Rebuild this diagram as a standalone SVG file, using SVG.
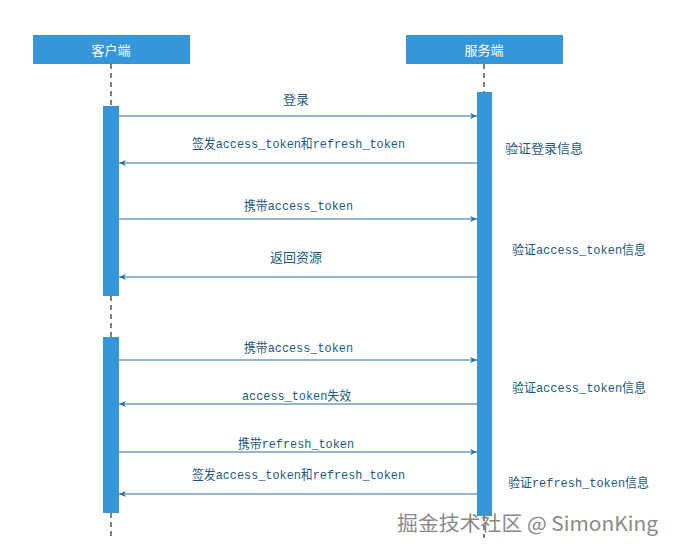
<svg xmlns="http://www.w3.org/2000/svg" width="675" height="553" viewBox="0 0 675 553">
<style>
.hdr{fill:#3596d9}
.hdrt{fill:#ffffff;font-family:"Noto Sans CJK SC",sans-serif;font-size:13px;text-anchor:middle;dominant-baseline:central}
.bar{fill:#3596d9}
.life{stroke:#000;stroke-width:1;stroke-dasharray:5,4;fill:none}
.msg{stroke:#2f6f9f;stroke-width:1.2;fill:none}
.lbl{fill:#1e5a80;font-family:"Liberation Mono","Noto Sans CJK SC",monospace;font-size:13px;dominant-baseline:central}
.mid{text-anchor:middle}
.wm{fill:#8a8a8a;font-family:"Noto Sans CJK SC","Noto Sans",sans-serif;font-size:20px}
</style>
<defs>
<marker id="ah" markerWidth="8" markerHeight="8" refX="7" refY="4" orient="auto" markerUnits="userSpaceOnUse">
<path d="M0,1 L7,4 L0,7 L2,4 Z" fill="#2f6f9f"/>
</marker>
</defs>
<rect width="675" height="553" fill="#ffffff"/>
<g id="lifelines">
<line class="life" x1="111" y1="64" x2="111" y2="106"/>
<line class="life" x1="111" y1="296" x2="111" y2="337"/>
<line class="life" x1="111" y1="513" x2="111" y2="538"/>
<line class="life" x1="484" y1="64" x2="484" y2="92"/>
<line class="life" x1="484" y1="516" x2="484" y2="538"/>
</g>
<g id="client">
<rect class="hdr" x="33" y="35" width="157" height="29"/>
<text class="hdrt" x="111" y="49.5">客户端</text>
</g>
<g id="server">
<rect class="hdr" x="406" y="35" width="157" height="29"/>
<text class="hdrt" x="484" y="49.5">服务端</text>
</g>
<g id="client-activation-1"><rect class="bar" x="103" y="106" width="16" height="190"/></g>
<g id="client-activation-2"><rect class="bar" x="103" y="337" width="16" height="176"/></g>
<g id="server-activation"><rect class="bar" x="477" y="92" width="15" height="424"/></g>
<g id="connectors">
<line class="msg" x1="119" y1="116" x2="477" y2="116" marker-end="url(#ah)"/>
<line class="msg" x1="477" y1="163" x2="119" y2="163" marker-end="url(#ah)"/>
<line class="msg" x1="119" y1="219" x2="477" y2="219" marker-end="url(#ah)"/>
<line class="msg" x1="477" y1="277" x2="119" y2="277" marker-end="url(#ah)"/>
<line class="msg" x1="119" y1="360" x2="477" y2="360" marker-end="url(#ah)"/>
<line class="msg" x1="477" y1="404" x2="119" y2="404" marker-end="url(#ah)"/>
<line class="msg" x1="119" y1="452" x2="477" y2="452" marker-end="url(#ah)"/>
<line class="msg" x1="477" y1="494" x2="119" y2="494" marker-end="url(#ah)"/>
</g>
<g id="labels">
<text class="lbl mid" x="296" y="100">登录</text>
<text class="lbl" x="192" y="144" textLength="213" lengthAdjust="spacingAndGlyphs">签发access_token和refresh_token</text>
<text class="lbl" x="244" y="206" textLength="109" lengthAdjust="spacingAndGlyphs">携带access_token</text>
<text class="lbl mid" x="296" y="258">返回资源</text>
<text class="lbl" x="244" y="348" textLength="109" lengthAdjust="spacingAndGlyphs">携带access_token</text>
<text class="lbl" x="242" y="396" textLength="109" lengthAdjust="spacingAndGlyphs">access_token失效</text>
<text class="lbl" x="238" y="444" textLength="116" lengthAdjust="spacingAndGlyphs">携带refresh_token</text>
<text class="lbl" x="192" y="475" textLength="213" lengthAdjust="spacingAndGlyphs">签发access_token和refresh_token</text>
</g>
<g id="notes">
<text class="lbl" x="505" y="149">验证登录信息</text>
<text class="lbl" x="512" y="250" textLength="134" lengthAdjust="spacingAndGlyphs">验证access_token信息</text>
<text class="lbl" x="512" y="388" textLength="134" lengthAdjust="spacingAndGlyphs">验证access_token信息</text>
<text class="lbl" x="508" y="483" textLength="141" lengthAdjust="spacingAndGlyphs">验证refresh_token信息</text>
</g>
<text class="wm" x="397" y="531" textLength="261" lengthAdjust="spacingAndGlyphs">掘金技术社区 @ SimonKing</text>
</svg>
